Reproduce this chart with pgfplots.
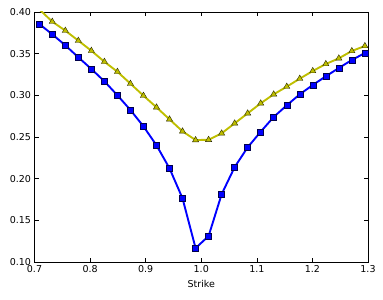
\documentclass[border=0pt]{standalone}
\usepackage{fontspec}
\setmainfont{DejaVu Sans}
\usepackage{pgfplots}
\pgfplotsset{compat=1.18}
\definecolor{mplblue}{rgb}{0,0,1}
\definecolor{mplyellow}{rgb}{0.75,0.75,0}
\begin{document}
\begin{tikzpicture}
\begin{axis}[name=ax, scale only axis, width=333.5bp, height=250bp,
  xmin=0.7, xmax=1.3, ymin=0.10, ymax=0.40,
  xtick={0.7,0.8,0.9,1.0,1.1,1.2,1.3},
  ytick={0.10,0.15,0.20,0.25,0.30,0.35,0.40},
  ticklabel style={font=\fontsize{9.5bp}{11bp}\selectfont},
  /pgf/number format/assume math mode=true,
  xticklabel style={/pgf/number format/.cd, fixed, fixed zerofill, precision=1},
  yticklabel style={/pgf/number format/.cd, fixed, fixed zerofill, precision=2},
  scaled ticks=false,
  xlabel={Strike},
  xlabel style={yshift=-1bp},
  label style={font=\fontsize{9.5bp}{11bp}\selectfont},
  major tick length=4bp,
  tick style={black, line width=0.6bp},
  axis line style={line width=0.8bp},
  minor tick num=0,
]
\addplot[mplblue, line width=1.9bp, mark=square*, mark size=3bp, mark options={fill=mplblue, draw=black!70!mplblue, line width=0.4bp}] coordinates {
(0.7086,0.3856) (0.7320,0.3732) (0.7555,0.3600) (0.7789,0.3456) (0.8023,0.3316)
(0.8258,0.3168) (0.8492,0.3000) (0.8726,0.2824) (0.8960,0.2628) (0.9195,0.2400)
(0.9429,0.2124) (0.9663,0.1764) (0.9898,0.1167) (1.0132,0.1311) (1.0366,0.1812)
(1.0601,0.2139) (1.0835,0.2376) (1.1069,0.2563) (1.1303,0.2740) (1.1538,0.2880)
(1.1772,0.3012) (1.2006,0.3124) (1.2241,0.3228) (1.2475,0.3328) (1.2709,0.3424)
(1.2944,0.3508)
};
\addplot[mplyellow, line width=1.9bp, mark=triangle*, mark size=3.6bp, mark options={fill=mplyellow, draw=black!80!mplyellow, line width=0.4bp}] coordinates {
(0.7086,0.4032) (0.7320,0.3884) (0.7555,0.3776) (0.7789,0.3656) (0.8023,0.3535)
(0.8258,0.3403) (0.8492,0.3283) (0.8726,0.3140) (0.8960,0.2996) (0.9195,0.2856)
(0.9429,0.2712) (0.9663,0.2568) (0.9898,0.2463) (1.0132,0.2467) (1.0366,0.2544)
(1.0601,0.2664) (1.0835,0.2784) (1.1069,0.2904) (1.1303,0.3012) (1.1538,0.3104)
(1.1772,0.3200) (1.2006,0.3292) (1.2241,0.3376) (1.2475,0.3444) (1.2709,0.3532)
(1.2944,0.3592)
};
\end{axis}
\pgfresetboundingbox
\path ([shift={(-34.5bp,-37bp)}]ax.south west) rectangle ([shift={(15bp,12bp)}]ax.north east);
\end{tikzpicture}
\end{document}
